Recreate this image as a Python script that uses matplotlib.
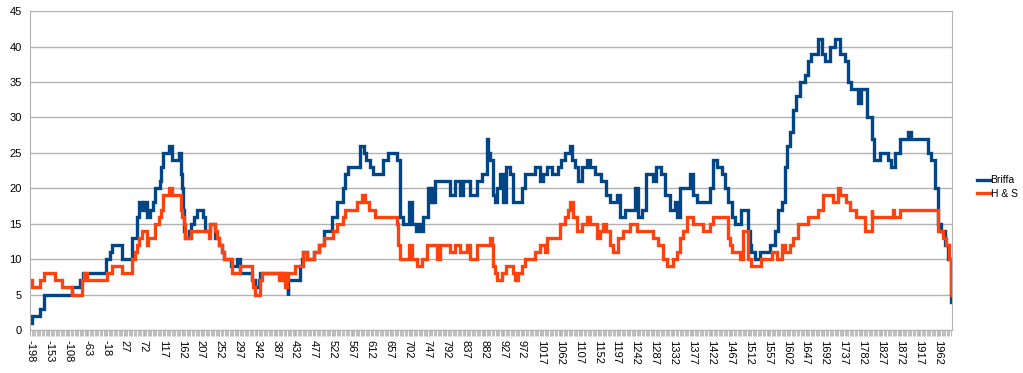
import numpy as np
import matplotlib
matplotlib.use('Agg')
import matplotlib.pyplot as plt

plt.rcParams['font.family'] = ['Liberation Sans', 'DejaVu Sans']

# Ступенчатые ряды: год начала ступени и значение
END_YEAR = 1995

briffa_years = [-198, -194, -174, -166, -99, -79, -73, -17, -8, -4, 20, 44, 56, 60, 68, 72, 79, 87,
                94, 99, 111, 114, 117, 131, 139, 155, 160, 163, 165, 168, 171, 179, 184, 192, 198,
                214, 218, 230, 242, 250, 258, 262, 280, 293, 301, 329, 337, 345, 349, 405, 410,
                414, 416, 444, 448, 452, 460, 476, 488, 500, 519, 531, 547, 551, 557, 587, 595,
                601, 610, 618, 642, 654, 674, 682, 690, 702, 710, 720, 727, 733, 737, 749, 753,
                757, 761, 765, 801, 813, 824, 832, 848, 864, 876, 888, 892, 896, 904, 908, 912,
                920, 927, 935, 943, 951, 971, 979, 1003, 1015, 1023, 1031, 1043, 1058, 1066, 1074,
                1086, 1090, 1098, 1106, 1114, 1126, 1134, 1146, 1161, 1173, 1181, 1197, 1205,
                1217, 1241, 1249, 1257, 1268, 1284, 1292, 1304, 1312, 1324, 1336, 1342, 1348,
                1372, 1380, 1388, 1419, 1427, 1435, 1447, 1455, 1463, 1471, 1479, 1494, 1510,
                1514, 1518, 1526, 1538, 1562, 1574, 1582, 1590, 1598, 1602, 1609, 1617, 1625,
                1633, 1645, 1653, 1661, 1677, 1685, 1693, 1705, 1716, 1728, 1740, 1748, 1756,
                1772, 1780, 1792, 1804, 1811, 1823, 1843, 1851, 1859, 1871, 1891, 1899, 1938,
                1946, 1954, 1962, 1970, 1978, 1986, 1994]
briffa_vals = [1, 2, 3, 5, 6, 7, 8, 10, 11, 12, 10, 13, 16, 18, 17, 18, 16, 17,
               18, 20, 21, 23, 25, 26, 24, 25, 22, 20, 17, 14, 13, 14, 15, 16, 17,
               16, 14, 15, 13, 12, 11, 10, 9, 10, 8, 7, 6, 7, 8, 7, 6,
               5, 7, 9, 10, 11, 10, 11, 12, 14, 16, 18, 20, 22, 23, 26, 25,
               24, 23, 22, 24, 25, 24, 16, 15, 18, 15, 14, 15, 14, 16, 20, 18,
               20, 18, 21, 19, 21, 19, 21, 19, 21, 22, 27, 25, 24, 19, 18, 20,
               22, 18, 23, 22, 18, 20, 22, 23, 21, 22, 23, 22, 23, 24, 25,
               26, 24, 23, 21, 23, 24, 23, 22, 21, 19, 18, 19, 16,
               17, 20, 16, 17, 22, 21, 23, 22, 19, 17, 18, 16, 20,
               22, 19, 18, 20, 24, 23, 22, 20, 18, 16, 15, 17, 14,
               12, 11, 10, 11, 12, 14, 17, 18, 23, 26, 28, 31, 33,
               35, 36, 38, 39, 41, 39, 38, 40, 41, 39, 38, 35, 34,
               32, 34, 30, 27, 24, 25, 24, 23, 25, 27, 28, 27, 25,
               24, 20, 15, 14, 12, 10, 4]

hs_years = [-198, -194, -174, -166, -139, -123, -99, -75, -71, -63, -16, -4, 20, 44, 52, 56, 60,
            68, 79, 83, 99, 109, 113, 117, 131, 139, 160, 163, 167, 171, 184, 228, 230, 242,
            246, 250, 258, 262, 282, 301, 329, 333, 337, 349, 353, 393, 401, 408, 412, 416,
            432, 452, 460, 476, 488, 500, 523, 531, 547, 551, 579, 591, 599, 607, 622, 674,
            678, 682, 702, 710, 722, 733, 745, 769, 777, 801, 813, 824, 840, 848, 864, 896,
            900, 904, 908, 912, 924, 935, 951, 955, 963, 971, 979, 1003, 1015, 1027, 1031,
            1062, 1074, 1082, 1086, 1094, 1102, 1114, 1126, 1134, 1150, 1157, 1165, 1173,
            1181, 1189, 1201, 1213, 1229, 1245, 1284, 1296, 1308, 1316, 1332, 1340, 1348,
            1356, 1364, 1380, 1403, 1419, 1427, 1463, 1467, 1471, 1490, 1498, 1510, 1518,
            1542, 1566, 1578, 1590, 1598, 1609, 1617, 1629, 1653, 1677, 1689, 1712, 1724,
            1728, 1744, 1752, 1768, 1788, 1804, 1806, 1855, 1857, 1871, 1962, 1974, 1982,
            1988, 1992]
hs_vals = [7, 6, 7, 8, 7, 6, 5, 7, 8, 7, 8, 9, 8, 10, 11, 12, 13,
           14, 12, 13, 15, 16, 17, 19, 20, 19, 17, 16, 15, 13, 14, 13, 15, 14,
           13, 12, 11, 10, 8, 9, 7, 6, 5, 7, 8, 7, 8, 6, 7, 8,
           9, 11, 10, 11, 12, 13, 14, 15, 16, 17, 18, 19, 18, 17, 16, 15,
           12, 10, 12, 10, 9, 10, 12, 10, 12, 11, 12, 11, 12, 10, 12, 13,
           12, 9, 8, 7, 8, 9, 8, 7, 8, 9, 10, 11, 12, 11, 13,
           15, 16, 17, 18, 16, 14, 15, 16, 15, 13, 14, 15, 14,
           12, 11, 13, 14, 15, 14, 13, 12, 10, 9, 10, 11, 13,
           14, 16, 15, 14, 15, 16, 13, 12, 11, 10, 14, 10, 9,
           10, 11, 10, 12, 11, 12, 13, 15, 16, 17, 19, 18, 20,
           19, 18, 17, 16, 14, 17, 16, 17, 16, 17, 14, 13, 12,
           10, 5]

tick_years = list(range(-198, 1963, 45))

fig = plt.figure(figsize=(10.23, 3.73), dpi=100)
ax = fig.add_axes([0.0293, 0.1153, 0.9013, 0.855])

grid_color = '#b3b3b3'
for name, yrs, vals, color in [('Briffa', briffa_years, briffa_vals, '#004586'),
                               ('H & S', hs_years, hs_vals, '#ff420e')]:
    x = yrs + [END_YEAR]
    y = vals + [vals[-1]]
    ax.plot(x, y, drawstyle='steps-post', color=color, linewidth=2.4, label=name,
            solid_joinstyle='miter')

ax.set_xlim(-199, END_YEAR + 0.5)
ax.set_ylim(0, 45)
ax.set_yticks(range(0, 46, 5))
ax.set_xticks(tick_years)
ax.set_xticklabels([str(t) for t in tick_years], rotation=-90, fontsize=8)
ax.set_xticks(np.arange(-198, END_YEAR, 3), minor=True)
ax.tick_params(axis='x', which='both', length=4, color=grid_color, pad=3)
ax.tick_params(axis='y', length=0, labelsize=8, pad=6)
ax.grid(axis='y', color=grid_color, linewidth=1)
ax.set_axisbelow(True)
for side in ['left', 'bottom', 'right']:
    ax.spines[side].set_color(grid_color)
ax.spines['top'].set_visible(False)

ax.legend(loc='center left', bbox_to_anchor=(977 / 1023, 1 - 187 / 373),
          bbox_transform=fig.transFigure, frameon=False, fontsize=7.5,
          borderpad=0, borderaxespad=0, handlelength=1.2, handletextpad=0.1,
          labelspacing=0.35)

fig.savefig('out.png', dpi=100)
